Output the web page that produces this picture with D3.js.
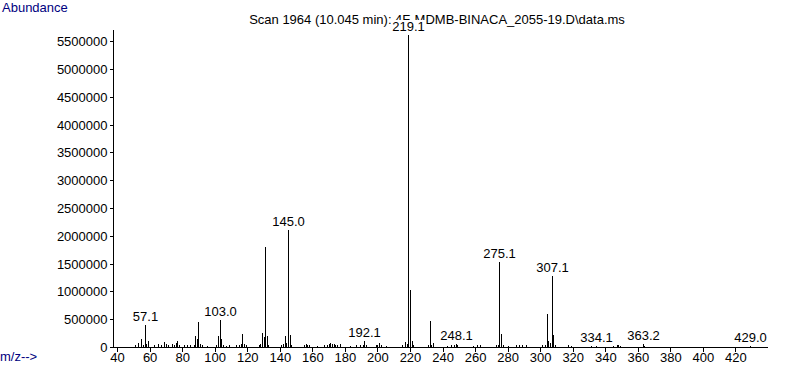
<!DOCTYPE html>
<html>
<head>
<meta charset="utf-8">
<script src="https://cdn.jsdelivr.net/npm/d3@7"></script>
<style>
  body { margin: 0; background: #fff; }
  svg { display: block; }
  text { font-family: "Liberation Sans", Arial, sans-serif; font-size: 13px; }
</style>
</head>
<body>
<div id="chart"></div>
<script>
// spectrum (m/z, abundance)
var mz = [51, 53, 55, 56, 57, 58, 59, 63, 65, 67, 69, 70, 71, 74, 75, 76, 77, 78, 81, 83, 85, 87,
  88, 89, 90, 91, 92, 95, 101, 102, 103, 104, 105, 107, 109, 113, 115, 116, 117, 118, 119,
  127, 128, 129, 130, 131, 132, 133, 141, 142, 143, 144, 145, 146, 147, 155, 156, 157, 158,
  163, 167, 169, 170, 171, 172, 173, 174, 175, 177, 183, 187, 189, 191, 192, 193, 199, 200,
  201, 202, 205, 215, 217, 218, 219, 220, 221, 222, 231, 232, 233, 234, 243, 245, 247, 248,
  249, 259, 261, 263, 273, 274, 275, 276, 277, 280, 285, 287, 289, 291, 301, 303, 304, 305,
  306, 307, 308, 309, 317, 319, 331, 334, 345, 347, 348, 349, 363, 364, 429];
var abundance = [40000, 70000, 150000, 40000, 395000, 60000, 100000, 40000, 50000, 30000, 90000, 60000, 40000, 50000, 40000, 70000, 110000, 40000, 30000, 30000, 30000, 30000,
  195000, 150000, 450000, 60000, 30000, 20000, 30000, 190000, 480000, 150000, 40000, 25000, 30000, 30000, 40000, 50000, 230000, 60000, 30000,
  40000, 60000, 250000, 180000, 1800000, 200000, 30000, 30000, 60000, 190000, 80000, 2100000, 220000, 40000, 30000, 50000, 40000, 30000,
  25000, 30000, 40000, 50000, 80000, 50000, 50000, 40000, 30000, 60000, 25000, 30000, 30000, 40000, 100000, 30000, 30000, 40000,
  80000, 30000, 25000, 40000, 90000, 50000, 5610000, 1030000, 100000, 30000, 30000, 465000, 40000, 70000, 25000, 30000, 30000, 50000,
  30000, 25000, 30000, 30000, 30000, 40000, 1530000, 235000, 40000, 25000, 30000, 30000, 40000, 30000, 30000, 30000, 600000, 110000,
  70000, 1285000, 210000, 30000, 40000, 25000, 20000, 20000, 20000, 30000, 30000, 25000, 55000, 25000, 15000];

// labelled peaks
var labelMz = [57, 103, 145, 192, 219, 248, 275, 307, 334, 363, 429];
var labelText = ["57.1", "103.0", "145.0", "192.1", "219.1", "248.1", "275.1", "307.1", "334.1", "363.2", "429.0"];

var yTicks = [0, 500000, 1000000, 1500000, 2000000, 2500000, 3000000, 3500000, 4000000, 4500000, 5000000, 5500000];
var xTicks = [40, 60, 80, 100, 120, 140, 160, 180, 200, 220, 240, 260, 280, 300, 320, 340, 360, 380, 400, 420];

var title = "Scan 1964 (10.045 min): 4F-MDMB-BINACA_2055-19.D\\data.ms";

var W = 787, H = 367;
var svg = d3.select("#chart").append("svg").attr("width", W).attr("height", H);

var x = d3.scaleLinear().domain([37.5, 440]).range([113, 768]);
var y = d3.scaleLinear().domain([0, 5700000]).range([347, 30]);

// title first, the 219.1 label later paints over it
svg.append("text").attr("x", 437).attr("y", 24).attr("text-anchor", "middle")
  .attr("fill", "#000").text(title);

svg.append("text").attr("x", 2).attr("y", 12).attr("fill", "#000080").text("Abundance");
svg.append("text").attr("x", 0).attr("y", 361).attr("fill", "#000080").text("m/z-->");

// y axis
var gy = svg.append("g").attr("transform", "translate(113.5,0)").attr("shape-rendering", "crispEdges");
gy.call(d3.axisLeft(y).tickValues(d3.range(0, 5700001, 100000)).tickSize(2).tickFormat(""));
gy.call(d3.axisLeft(y).tickValues(yTicks).tickSize(4).tickPadding(2).tickFormat(d3.format("d")));
gy.selectAll(".domain").remove();
gy.append("line").attr("x1", 0).attr("x2", 0).attr("y1", 30).attr("y2", 347.5).attr("stroke", "#000");
gy.selectAll("text").attr("font-size", 13).attr("font-family", "Liberation Sans, Arial, sans-serif").attr("dy", "0.35em");

// x axis
var gx = svg.append("g").attr("transform", "translate(0,347.5)").attr("shape-rendering", "crispEdges");
gx.call(d3.axisBottom(x).tickValues(d3.range(40, 441, 5)).tickSize(2).tickFormat(""));
gx.call(d3.axisBottom(x).tickValues(xTicks).tickSize(4).tickPadding(1).tickFormat(d3.format("d")));
gx.selectAll(".domain").remove();
gx.append("line").attr("x1", 113).attr("x2", 768).attr("stroke", "#000");
gx.selectAll("text").attr("font-size", 13).attr("font-family", "Liberation Sans, Arial, sans-serif");

// peaks
var peaks = mz.map(function(m, i) { return {mz: m, v: abundance[i]}; });
svg.append("g").attr("shape-rendering", "crispEdges")
  .selectAll("line").data(peaks).enter().append("line")
  .attr("x1", function(d) { return Math.round(x(d.mz)) + 0.5; })
  .attr("x2", function(d) { return Math.round(x(d.mz)) + 0.5; })
  .attr("y1", y(0))
  .attr("y2", function(d) { return y(d.v); })
  .attr("stroke", "#000");

// peak labels with white box behind
var lab = svg.append("g").selectAll("g").data(labelMz).enter().append("g");
lab.each(function(m, i) {
  var v = abundance[mz.indexOf(m)];
  var g = d3.select(this);
  var bx = Math.round(x(m)) + 0.5, by = y(v) - 4;
  var rect = g.append("rect").attr("fill", "#fff");
  var t = g.append("text").attr("x", bx).attr("y", by).attr("text-anchor", "middle").text(labelText[i]);
  var bb = t.node().getBBox();
  rect.attr("x", bb.x - 1).attr("y", by - 11).attr("width", bb.width + 2).attr("height", 13);
});
</script>
</body>
</html>
